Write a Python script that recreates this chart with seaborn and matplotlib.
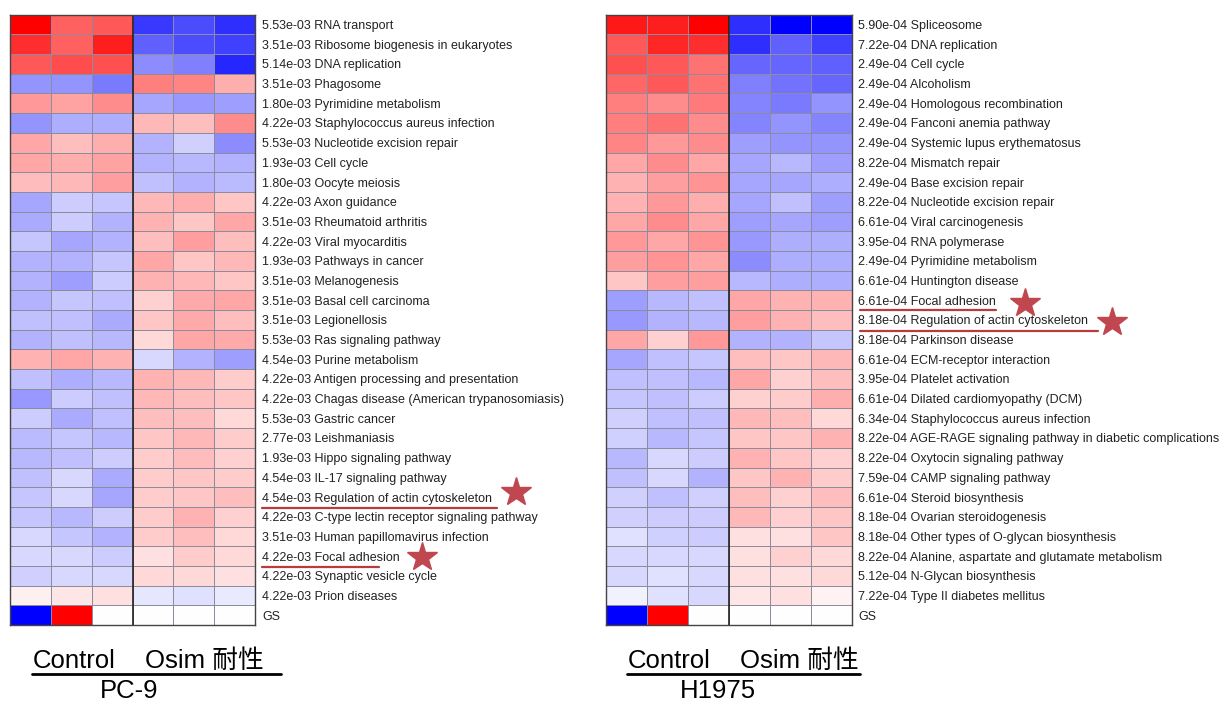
import numpy as np
import pandas as pd
import seaborn as sns
import matplotlib.pyplot as plt
from matplotlib.lines import Line2D

# ---------------- data ----------------
columns = ["Control 1", "Control 2", "Control 3", "Osim 1", "Osim 2", "Osim 3"]

pc9_pvals = ["5.53e-03", "3.51e-03", "5.14e-03", "3.51e-03", "1.80e-03", "4.22e-03",
             "5.53e-03", "1.93e-03", "1.80e-03", "4.22e-03", "3.51e-03", "4.22e-03",
             "1.93e-03", "3.51e-03", "3.51e-03", "3.51e-03", "5.53e-03", "4.54e-03",
             "4.22e-03", "4.22e-03", "5.53e-03", "2.77e-03", "1.93e-03", "4.54e-03",
             "4.54e-03", "4.22e-03", "3.51e-03", "4.22e-03", "4.22e-03", "4.22e-03", ""]
pc9_pathways = ["RNA transport", "Ribosome biogenesis in eukaryotes", "DNA replication",
                "Phagosome", "Pyrimidine metabolism", "Staphylococcus aureus infection",
                "Nucleotide excision repair", "Cell cycle", "Oocyte meiosis", "Axon guidance",
                "Rheumatoid arthritis", "Viral myocarditis", "Pathways in cancer",
                "Melanogenesis", "Basal cell carcinoma", "Legionellosis",
                "Ras signaling pathway", "Purine metabolism",
                "Antigen processing and presentation",
                "Chagas disease (American trypanosomiasis)", "Gastric cancer",
                "Leishmaniasis", "Hippo signaling pathway", "IL-17 signaling pathway",
                "Regulation of actin cytoskeleton", "C-type lectin receptor signaling pathway",
                "Human papillomavirus infection", "Focal adhesion", "Synaptic vesicle cycle",
                "Prion diseases", "GS"]
pc9_values = [
    [1.00, 0.62, 0.65, -0.78, -0.70, -0.82],
    [0.82, 0.62, 0.88, -0.62, -0.70, -0.75],
    [0.65, 0.70, 0.68, -0.45, -0.50, -0.85],
    [-0.42, -0.42, -0.52, 0.50, 0.48, 0.32],
    [0.40, 0.36, 0.45, -0.35, -0.40, -0.38],
    [-0.42, -0.32, -0.32, 0.28, 0.25, 0.45],
    [0.35, 0.25, 0.32, -0.30, -0.18, -0.45],
    [0.35, 0.32, 0.36, -0.30, -0.28, -0.30],
    [0.26, 0.28, 0.38, -0.25, -0.30, -0.27],
    [-0.35, -0.20, -0.22, 0.28, 0.32, 0.22],
    [-0.33, -0.20, -0.30, 0.30, 0.22, 0.35],
    [-0.22, -0.35, -0.30, 0.25, 0.38, 0.25],
    [-0.30, -0.30, -0.22, 0.35, 0.22, 0.28],
    [-0.30, -0.38, -0.20, 0.30, 0.28, 0.22],
    [-0.30, -0.22, -0.25, 0.18, 0.33, 0.35],
    [-0.25, -0.25, -0.33, 0.22, 0.33, 0.25],
    [-0.30, -0.25, -0.28, 0.15, 0.35, 0.33],
    [0.30, 0.35, 0.30, -0.15, -0.30, -0.38],
    [-0.25, -0.32, -0.28, 0.30, 0.28, 0.20],
    [-0.40, -0.20, -0.25, 0.28, 0.25, 0.22],
    [-0.20, -0.33, -0.25, 0.25, 0.25, 0.15],
    [-0.27, -0.22, -0.28, 0.22, 0.28, 0.20],
    [-0.28, -0.25, -0.20, 0.20, 0.26, 0.18],
    [-0.25, -0.15, -0.33, 0.20, 0.22, 0.20],
    [-0.22, -0.15, -0.35, 0.20, 0.22, 0.25],
    [-0.22, -0.28, -0.20, 0.20, 0.30, 0.18],
    [-0.15, -0.22, -0.30, 0.20, 0.25, 0.15],
    [-0.15, -0.15, -0.20, 0.12, 0.20, 0.15],
    [-0.18, -0.15, -0.15, 0.15, 0.15, 0.12],
    [0.06, 0.10, 0.12, -0.10, -0.12, -0.08],
    [-1.00, 1.00, 0.00, 0.00, 0.00, 0.00],
]

h1975_pvals = ["5.90e-04", "7.22e-04", "2.49e-04", "2.49e-04", "2.49e-04", "2.49e-04",
               "2.49e-04", "8.22e-04", "2.49e-04", "8.22e-04", "6.61e-04", "3.95e-04",
               "2.49e-04", "6.61e-04", "6.61e-04", "8.18e-04", "8.18e-04", "6.61e-04",
               "3.95e-04", "6.61e-04", "6.34e-04", "8.22e-04", "8.22e-04", "7.59e-04",
               "6.61e-04", "8.18e-04", "8.18e-04", "8.22e-04", "5.12e-04", "7.22e-04", ""]
h1975_pathways = ["Spliceosome", "DNA replication", "Cell cycle", "Alcoholism",
                  "Homologous recombination", "Fanconi anemia pathway",
                  "Systemic lupus erythematosus", "Mismatch repair", "Base excision repair",
                  "Nucleotide excision repair", "Viral carcinogenesis", "RNA polymerase",
                  "Pyrimidine metabolism", "Huntington disease", "Focal adhesion",
                  "Regulation of actin cytoskeleton", "Parkinson disease",
                  "ECM-receptor interaction", "Platelet activation",
                  "Dilated cardiomyopathy (DCM)", "Staphylococcus aureus infection",
                  "AGE-RAGE signaling pathway in diabetic complications",
                  "Oxytocin signaling pathway", "CAMP signaling pathway",
                  "Steroid biosynthesis", "Ovarian steroidogenesis",
                  "Other types of O-glycan biosynthesis",
                  "Alanine, aspartate and glutamate metabolism", "N-Glycan biosynthesis",
                  "Type II diabetes mellitus", "GS"]
h1975_values = [
    [0.90, 0.88, 1.00, -0.82, -1.00, -1.00],
    [0.65, 0.85, 0.82, -0.82, -0.62, -0.75],
    [0.68, 0.65, 0.55, -0.60, -0.60, -0.62],
    [0.60, 0.65, 0.55, -0.50, -0.55, -0.60],
    [0.50, 0.45, 0.52, -0.48, -0.52, -0.42],
    [0.50, 0.55, 0.45, -0.48, -0.42, -0.48],
    [0.48, 0.40, 0.45, -0.38, -0.42, -0.42],
    [0.35, 0.45, 0.35, -0.35, -0.28, -0.38],
    [0.30, 0.38, 0.42, -0.35, -0.35, -0.32],
    [0.30, 0.40, 0.32, -0.35, -0.25, -0.38],
    [0.35, 0.45, 0.35, -0.38, -0.35, -0.38],
    [0.40, 0.35, 0.42, -0.40, -0.32, -0.32],
    [0.38, 0.42, 0.35, -0.45, -0.32, -0.32],
    [0.22, 0.38, 0.38, -0.28, -0.32, -0.32],
    [-0.38, -0.28, -0.25, 0.35, 0.30, 0.30],
    [-0.40, -0.30, -0.28, 0.38, 0.30, 0.25],
    [0.35, 0.18, 0.40, -0.30, -0.30, -0.22],
    [-0.35, -0.25, -0.22, 0.25, 0.22, 0.28],
    [-0.25, -0.25, -0.28, 0.35, 0.18, 0.25],
    [-0.22, -0.25, -0.20, 0.18, 0.20, 0.32],
    [-0.18, -0.25, -0.25, 0.28, 0.25, 0.15],
    [-0.18, -0.28, -0.22, 0.22, 0.22, 0.30],
    [-0.28, -0.15, -0.20, 0.30, 0.22, 0.18],
    [-0.25, -0.15, -0.30, 0.22, 0.30, 0.20],
    [-0.18, -0.25, -0.18, 0.25, 0.18, 0.25],
    [-0.18, -0.20, -0.20, 0.28, 0.18, 0.22],
    [-0.12, -0.18, -0.20, 0.12, 0.12, 0.22],
    [-0.15, -0.15, -0.15, 0.12, 0.18, 0.15],
    [-0.15, -0.12, -0.15, 0.12, 0.12, 0.15],
    [-0.05, -0.12, -0.15, 0.10, 0.12, 0.05],
    [-1.00, 1.00, 0.00, 0.00, 0.00, 0.00],
]

group_label = ["Control", "Osim 耐性"]
cell_lines = ["PC-9", "H1975"]

# ---------------- figure ----------------
sns.set_theme(style="white")
plt.rcParams["font.family"] = ["Liberation Sans", "Noto Sans CJK JP", "DejaVu Sans"]

W, H = 1223, 701
fig = plt.figure(figsize=(W / 100, H / 100), dpi=100)


def fx(x):
    return x / W


def fy(y):
    return 1 - y / H


top, bottom = 14.7, 625.0
ax1 = fig.add_axes([fx(10), fy(bottom), (255 - 10) / W, (bottom - top) / H])
ax2 = fig.add_axes([fx(606), fy(bottom), (851.5 - 606) / W, (bottom - top) / H])


def make_labels(pvals, names):
    return [(p + " " + n) if p else n for p, n in zip(pvals, names)]


def draw(ax, values, labels):
    df = pd.DataFrame(values, index=labels, columns=columns)
    sns.heatmap(df, ax=ax, cmap="bwr", vmin=-1, vmax=1, cbar=False,
                linewidths=0.6, linecolor="#8c8c9c",
                xticklabels=False, yticklabels=True)
    ax.yaxis.tick_right()
    ax.tick_params(axis="y", length=0, pad=5, labelsize=9.0, labelrotation=0,
                   colors="#222222")
    ax.set_xlabel("")
    ax.set_ylabel("")
    for s in ax.spines.values():
        s.set_visible(True)
        s.set_color("#444444")
        s.set_linewidth(1.0)
    ax.axvline(3, color="#222222", lw=1.2)


draw(ax1, pc9_values, make_labels(pc9_pvals, pc9_pathways))
draw(ax2, h1975_values, make_labels(h1975_pvals, h1975_pathways))

# highlight underlines and stars
line_col = "#b83c3c"
star_col = "#c0464f"
for (x0, x1, y) in [(262, 497, 508), (262, 379, 567), (860, 996, 310), (860, 1098, 331)]:
    fig.add_artist(Line2D([fx(x0), fx(x1)], [fy(y), fy(y)], color=line_col, lw=1.6,
                          transform=fig.transFigure))
for (x, y) in [(516, 492), (421.7, 557), (1025, 303), (1111.7, 321.7)]:
    fig.add_artist(Line2D([fx(x)], [fy(y)], marker="*", markersize=22, color=star_col,
                          linestyle="none", transform=fig.transFigure))

# bottom group labels
for (xc, xo, xe, ycl, name, xn) in [(33, 145, 281, 661, cell_lines[0], 129),
                                     (628, 740, 860, 661, cell_lines[1], 718)]:
    fig.text(fx(xc), fy(ycl), group_label[0], fontsize=18.5, ha="left", va="center",
             color="black")
    fig.text(fx(xo), fy(ycl), group_label[1], fontsize=18.5, ha="left", va="center",
             color="black")
    fig.add_artist(Line2D([fx(xc - 1), fx(xe)], [fy(674), fy(674)], color="black", lw=2,
                          transform=fig.transFigure))
    fig.text(fx(xn), fy(691), name, fontsize=18.5, ha="center", va="center",
             color="black")

fig.savefig("out.png", dpi=100)
